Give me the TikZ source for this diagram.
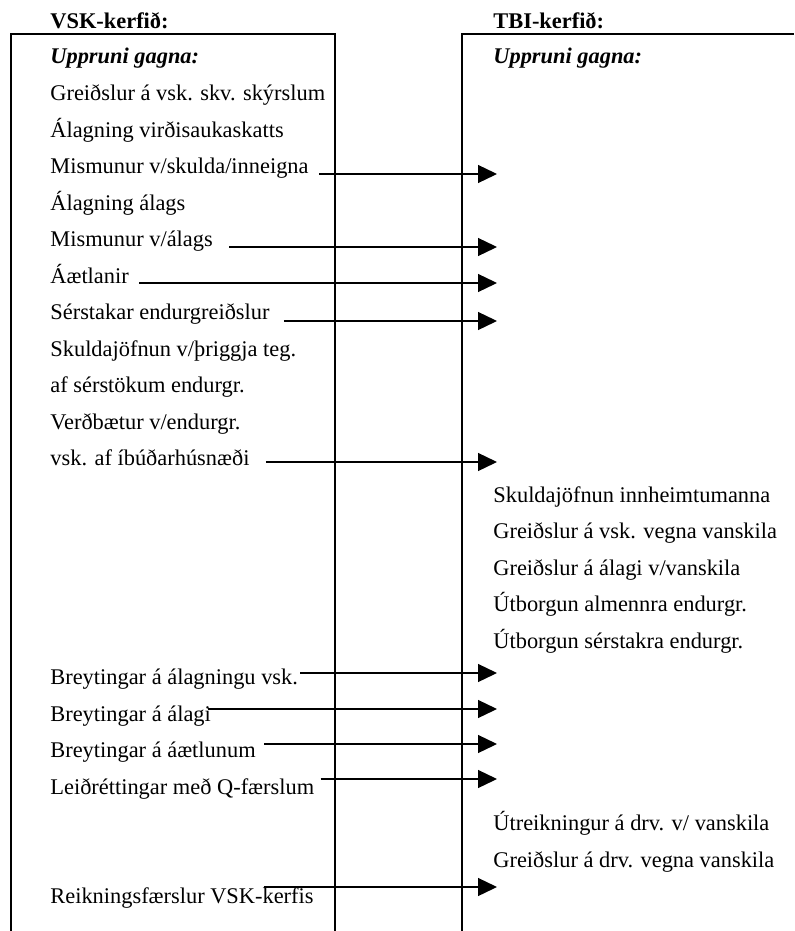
\documentclass[tikz,border=0pt]{standalone}
\usepackage{fontspec}
\setmainfont{Liberation Serif}
\usetikzlibrary{calc,arrows.meta}

\begin{document}
\begin{tikzpicture}[x=0.5pt,y=-0.5pt,
		frame/.style={line width=1pt},
		item/.style={anchor=base west,inner sep=0pt,font=\fontsize{11.2}{13}\selectfont},
		head/.style={item,font=\fontsize{11.2}{13}\selectfont\bfseries},
		flow/.style={line width=0.65pt,-{Triangle[length=9.5pt,width=9pt]}}]
		%%%%% START %%%%%
		\useasboundingbox (0, 0) rectangle (794, 931);
		
		% the two systems
		\draw[frame] (11, 931) -- (11, 34) -- (335, 34) -- (335, 931);
		\draw[frame] (462, 931) -- (462, 34) -- (794, 34);
		
		\node[head] (vsk) at (50, 29) {VSK-kerfið:};
		\node[head] (tbi) at (493, 29) {TBI-kerfið:};
		\node[head] (u0) at (50, 64) {\itshape Uppruni gagna:};
		\node[head] (v0) at (493, 64) {\itshape Uppruni gagna:};
		
		% VSK side
		\node[item] (m1) at (50, 100.5) {Greiðslur á vsk. skv. skýrslum};
		\node[item] (m2) at (50, 137) {Álagning virðisaukaskatts};
		\node[item] (m3) at (50, 173.5) {Mismunur v/skulda/inneigna};
		\node[item] (m4) at (50, 210) {Álagning álags};
		\node[item] (m5) at (50, 246.5) {Mismunur v/álags};
		\node[item] (m6) at (50, 283) {Áætlanir};
		\node[item] (m7) at (50, 319.5) {Sérstakar endurgreiðslur};
		\node[item] (m8) at (50, 356) {Skuldajöfnun v/þriggja teg.};
		\node[item] (m9) at (50, 392.5) {af sérstökum endurgr.};
		\node[item] (m10) at (50, 429) {Verðbætur v/endurgr.};
		\node[item] (m11) at (50, 465.5) {vsk. af íbúðarhúsnæði};
		\node[item] (m17) at (50, 684.5) {Breytingar á álagningu vsk.};
		\node[item] (m18) at (50, 721) {Breytingar á álagi};
		\node[item] (m19) at (50, 757.5) {Breytingar á áætlunum};
		\node[item] (m20) at (50, 794) {Leiðréttingar með Q-færslum};
		\node[item] (m23) at (50, 903.5) {Reikningsfærslur VSK-kerfis};
		
		% TBI side
		\node[item] (r12) at (493, 502) {Skuldajöfnun innheimtumanna};
		\node[item] (r13) at (493, 538.5) {Greiðslur á vsk. vegna vanskila};
		\node[item] (r14) at (493, 575) {Greiðslur á álagi v/vanskila};
		\node[item] (r15) at (493, 611.5) {Útborgun almennra endurgr.};
		\node[item] (r16) at (493, 648) {Útborgun sérstakra endurgr.};
		\node[item] (r21) at (493, 830.5) {Útreikningur á drv. v/ vanskila};
		\node[item] (r22) at (493, 867) {Greiðslur á drv. vegna vanskila};
		
		% arrow tips
		\coordinate (t3) at (497, 174);
		\coordinate (t5) at (497, 247);
		\coordinate (t6) at (497, 283);
		\coordinate (t7) at (497, 321);
		\coordinate (t11) at (497, 462);
		\coordinate (t17) at (497, 673);
		\coordinate (t18) at (497, 709);
		\coordinate (t19) at (497, 744);
		\coordinate (t20) at (497, 779);
		\coordinate (t23) at (497, 887);
		
		\draw[flow] ($(m3.east |- t3)+(10, 0)$) -- (t3);
		\draw[flow] ($(m5.east |- t5)+(16, 0)$) -- (t5);
		\draw[flow] ($(m6.east |- t6)+(10, 0)$) -- (t6);
		\draw[flow] ($(m7.east |- t7)+(14, 0)$) -- (t7);
		\draw[flow] ($(m11.east |- t11)+(16, 0)$) -- (t11);
		\draw[flow] ($(m17.east |- t17)+(2, 0)$) -- (t17);
		\draw[flow] ($(m18.east |- t18)+(-3, 0)$) -- (t18);
		\draw[flow] ($(m19.east |- t19)+(8, 0)$) -- (t19);
		\draw[flow] ($(m20.east |- t20)+(6, 0)$) -- (t20);
		\draw[flow] ($(m23.east |- t23)+(-50, 0)$) -- (t23);
		
		%%%%% END %%%%%
\end{tikzpicture}
\end{document}
